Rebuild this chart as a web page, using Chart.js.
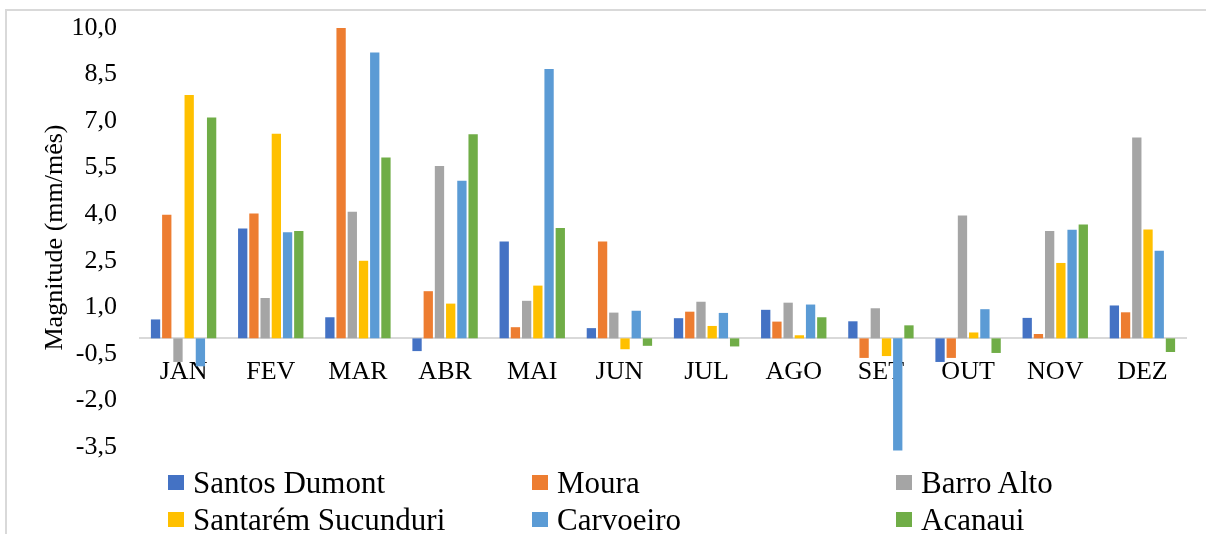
<!DOCTYPE html>
<html lang="pt">
<head>
  <meta charset="UTF-8">
  <title>Magnitude mensal</title>
  <script src="https://cdn.jsdelivr.net/npm/chart.js"></script>
  <style>
    * {
      box-sizing: border-box;
      margin: 0;
      padding: 0;
    }
    body {
      width: 1206px;
      height: 534px;
      overflow: hidden;
      background: #fff;
      position: relative;
      font-family: 'Liberation Serif', 'Times New Roman', serif;
    }
    .frame {
      position: absolute;
      left: 5px;
      top: 9px;
      width: 1300px;
      height: 600px;
      border-left: 2px solid #d9d9d9;
      border-top: 2px solid #d9d9d9;
    }
    #chart {
      position: absolute;
      left: 0;
      top: 0;
    }
    .legend {
      position: absolute;
      left: 168px;
      top: 464px;
      display: grid;
      grid-template-columns: 364px 364px 364px;
      grid-auto-rows: 37px;
      font-size: 31px;
      color: #000;
    }
    .legend .item {
      display: flex;
      align-items: center;
      white-space: nowrap;
    }
    .legend .box {
      width: 16px;
      height: 15px;
      margin-right: 9px;
    }
  </style>
</head>
<body>
  <div class="frame"></div>
  <canvas id="chart" width="1206" height="534"></canvas>
  <div class="legend" id="legend"></div>

  <script>
    // values (mm/mês)
    const months = ['JAN', 'FEV', 'MAR', 'ABR', 'MAI', 'JUN', 'JUL', 'AGO', 'SET', 'OUT', 'NOV', 'DEZ'];
    const santosDumont = [0.61, 3.54, 0.68, -0.41, 3.12, 0.33, 0.65, 0.92, 0.55, -0.76, 0.66, 1.06];
    const moura = [3.98, 4.02, 10.0, 1.52, 0.36, 3.12, 0.86, 0.54, -0.63, -0.63, 0.14, 0.84];
    const barroAlto = [-0.76, 1.30, 4.08, 5.55, 1.21, 0.83, 1.18, 1.15, 0.97, 3.96, 3.46, 6.47];
    const santaremSucunduri = [7.84, 6.59, 2.50, 1.12, 1.70, -0.35, 0.40, 0.10, -0.57, 0.19, 2.43, 3.51];
    const carvoeiro = [-0.90, 3.42, 9.21, 5.08, 8.68, 0.89, 0.82, 1.09, -3.61, 0.94, 3.50, 2.82];
    const acanaui = [7.12, 3.46, 5.83, 6.58, 3.56, -0.24, -0.26, 0.68, 0.42, -0.47, 3.67, -0.44];

    const seriesNames = ['Santos Dumont', 'Moura', 'Barro Alto', 'Santarém Sucunduri', 'Carvoeiro', 'Acanaui'];
    const seriesValues = [santosDumont, moura, barroAlto, santaremSucunduri, carvoeiro, acanaui];
    const seriesColors = ['#4472c4', '#ed7d31', '#a5a5a5', '#ffc000', '#5b9bd5', '#70ad47'];

    const yMin = -3.5;
    const yMax = 10;
    const yStep = 1.5;

    const serif = "'Liberation Serif', 'Times New Roman', serif";

    const datasets = seriesNames.map((name, i) => ({
      label: name,
      data: seriesValues[i],
      backgroundColor: seriesColors[i],
      borderWidth: 0,
      clip: false
    }));

    const chart = new Chart(document.getElementById('chart'), {
      type: 'bar',
      data: { labels: months, datasets: datasets },
      options: {
        responsive: false,
        animation: false,
        devicePixelRatio: 1,
        categoryPercentage: 0.772,
        barPercentage: 0.83,
        layout: {
          padding: { left: 0, top: 28, right: 20, bottom: 87 }
        },
        plugins: {
          legend: { display: false },
          tooltip: { enabled: false }
        },
        scales: {
          x: {
            position: { y: 0 },
            grid: { display: false, drawTicks: false },
            border: { display: true, color: '#d9d9d9', width: 2 },
            ticks: {
              color: '#000',
              padding: 18,
              font: { family: serif, size: 26 }
            }
          },
          y: {
            min: yMin,
            max: yMax,
            grid: { display: false, drawTicks: false },
            border: { display: false },
            afterFit: function(scale) {
              // fixed axis width, and let the layout padding decide top/bottom
              scale.width = 140;
              scale.paddingTop = 0;
              scale.paddingBottom = 0;
            },
            ticks: {
              stepSize: yStep,
              color: '#000',
              padding: 23,
              font: { family: serif, size: 26 },
              callback: v => v.toFixed(1).replace('.', ',')
            },
            title: {
              display: true,
              text: 'Magnitude (mm/mês)',
              color: '#000',
              padding: { top: 40, bottom: 0 },
              font: { family: serif, size: 26 }
            }
          }
        }
      }
    });

    // legend laid out in three columns like the original
    const legendEl = document.getElementById('legend');
    chart.data.datasets.forEach(ds => {
      const item = document.createElement('div');
      item.className = 'item';
      const box = document.createElement('span');
      box.className = 'box';
      box.style.background = ds.backgroundColor;
      const text = document.createElement('span');
      text.textContent = ds.label;
      item.appendChild(box);
      item.appendChild(text);
      legendEl.appendChild(item);
    });
  </script>
</body>
</html>
